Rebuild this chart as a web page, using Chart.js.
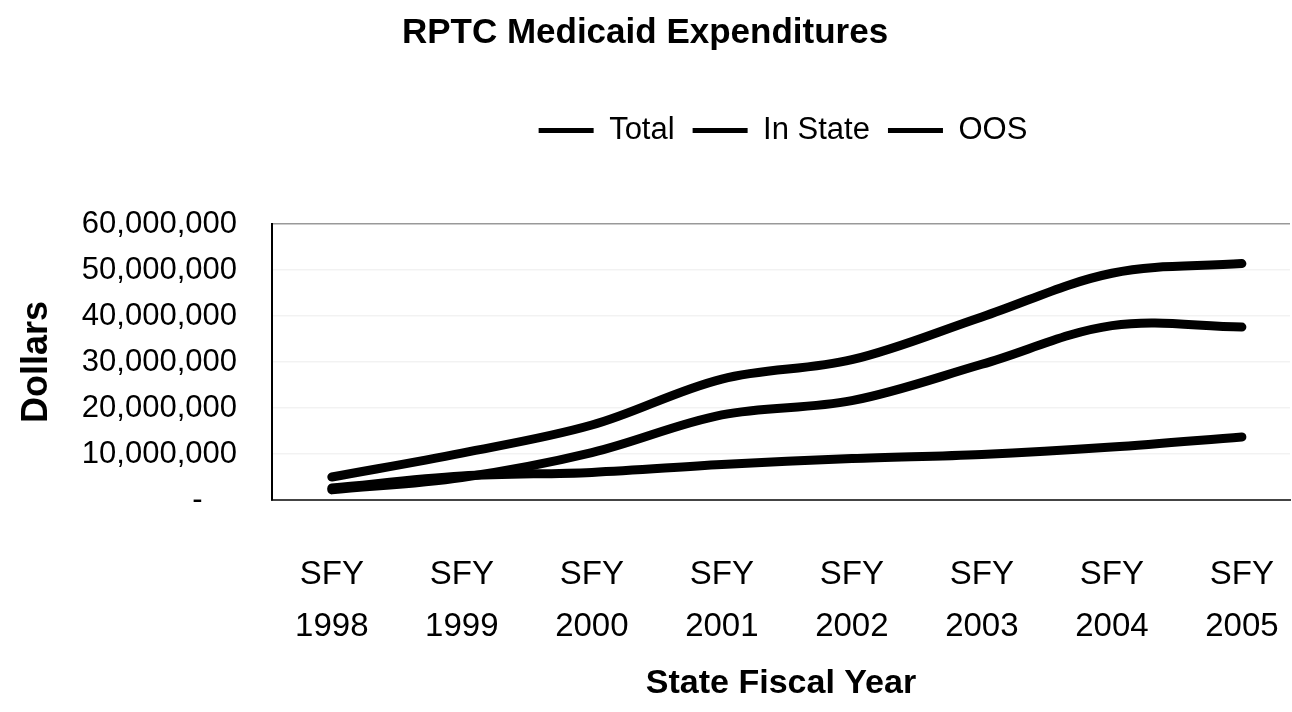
<!DOCTYPE html>
<html>
<head>
<meta charset="utf-8">
<script src="https://cdn.jsdelivr.net/npm/chart.js@4"></script>
<style>
  html, body { margin: 0; padding: 0; background: #fff; }
  #wrap { width: 1292px; height: 712px; }
</style>
</head>
<body>
<div id="wrap"><canvas id="linegraph" width="1292" height="712"></canvas></div>
<script>
// values, in dollars
var years = [['SFY', '1998'], ['SFY', '1999'], ['SFY', '2000'], ['SFY', '2001'],
             ['SFY', '2002'], ['SFY', '2003'], ['SFY', '2004'], ['SFY', '2005']];
var totalValues   = [5000000, 10200000, 16300000, 26300000, 30500000, 39800000, 49300000, 51400000];
var inStateValues = [2200000, 4900000, 10300000, 18500000, 21600000, 29500000, 37900000, 37600000];
var oosValues     = [2600000, 5200000, 6000000, 7700000, 9000000, 9900000, 11500000, 13700000];
var yTicks = [0, 10000000, 20000000, 30000000, 40000000, 50000000, 60000000];

function toPoints(vals) {
    return vals.map(function (v, i) { return { x: i, y: v }; });
}

Chart.defaults.font.family = "'Liberation Sans', Arial, sans-serif";
Chart.defaults.color = '#000';

var lineStyle = {
    borderColor: '#000',
    backgroundColor: '#000',
    borderWidth: 9,
    borderCapStyle: 'round',
    pointRadius: 0,
    tension: 0.35,
    fill: false
};

// pushes the legend down/right and leaves room above the plot
var legendPlace = {
    id: 'legendPlace',
    beforeInit: function (chart) {
        var fit = chart.legend.fit;
        chart.legend.fit = function () {
            fit.bind(chart.legend)();
            this.height += 68;
        };
    },
    afterLayout: function (chart) {
        chart.legend.left += 138;
        chart.legend.right += 138;
    }
};

var ctx = document.getElementById('linegraph').getContext('2d');
var expChart = new Chart(ctx, {
    type: 'line',
    data: {
        datasets: [
            Object.assign({ label: 'Total', data: toPoints(totalValues) }, lineStyle),
            Object.assign({ label: 'In State', data: toPoints(inStateValues) }, lineStyle),
            Object.assign({ label: 'OOS', data: toPoints(oosValues) }, lineStyle)
        ]
    },
    options: {
        responsive: false,
        animation: false,
        layout: { padding: { left: 0, right: 2, top: 0, bottom: 0 } },
        plugins: {
            title: {
                display: true,
                text: 'RPTC Medicaid Expenditures',
                font: { size: 35, weight: 'bold' },
                padding: { top: 12, bottom: 43 }
            },
            legend: {
                display: true,
                labels: {
                    font: { size: 31 },
                    usePointStyle: true,
                    pointStyle: 'line',
                    pointStyleWidth: 55,
                    padding: 18,
                    generateLabels: function (chart) {
                        return Chart.defaults.plugins.legend.labels.generateLabels(chart).map(function (l) {
                            l.lineWidth = 5;
                            l.pointStyle = 'line';
                            return l;
                        });
                    }
                }
            },
            tooltip: { enabled: false }
        },
        scales: {
            x: {
                type: 'linear',
                min: -0.46,
                max: 7.37,
                afterFit: function (scale) {
                    scale.height = 212;
                    scale.paddingLeft = 0;
                    scale.paddingRight = 0;
                },
                grid: { display: false, drawTicks: false },
                border: { display: true, color: '#444', width: 2 },
                ticks: {
                    stepSize: 1,
                    includeBounds: false,
                    autoSkip: false,
                    maxRotation: 0,
                    padding: 49,
                    font: { size: 33, lineHeight: 1.58 },
                    callback: function (v) {
                        return (Number.isInteger(v) && v >= 0 && v < years.length) ? years[v] : '';
                    }
                },
                title: {
                    display: true,
                    text: 'State Fiscal Year',
                    font: { size: 34, weight: 'bold' },
                    padding: { top: 0, bottom: 8 }
                }
            },
            y: {
                min: yTicks[0],
                max: yTicks[yTicks.length - 1],
                afterFit: function (scale) { scale.width = 272; },
                grid: {
                    drawTicks: false,
                    color: function (c) {
                        return c.tick && c.tick.value === yTicks[yTicks.length - 1] ? '#999' : 'rgba(0,0,0,0.05)';
                    },
                    lineWidth: 1.5
                },
                border: { display: true, color: '#000', width: 2 },
                ticks: {
                    stepSize: 10000000,
                    padding: 35,
                    font: { size: 31 },
                    callback: function (v) {
                        return v === 0 ? '-    ' : v.toLocaleString('en-US');
                    }
                },
                title: {
                    display: true,
                    text: 'Dollars',
                    font: { size: 36, weight: 'bold' },
                    padding: { top: 15, bottom: 0 }
                }
            }
        }
    },
    plugins: [legendPlace]
});
</script>
</body>
</html>
